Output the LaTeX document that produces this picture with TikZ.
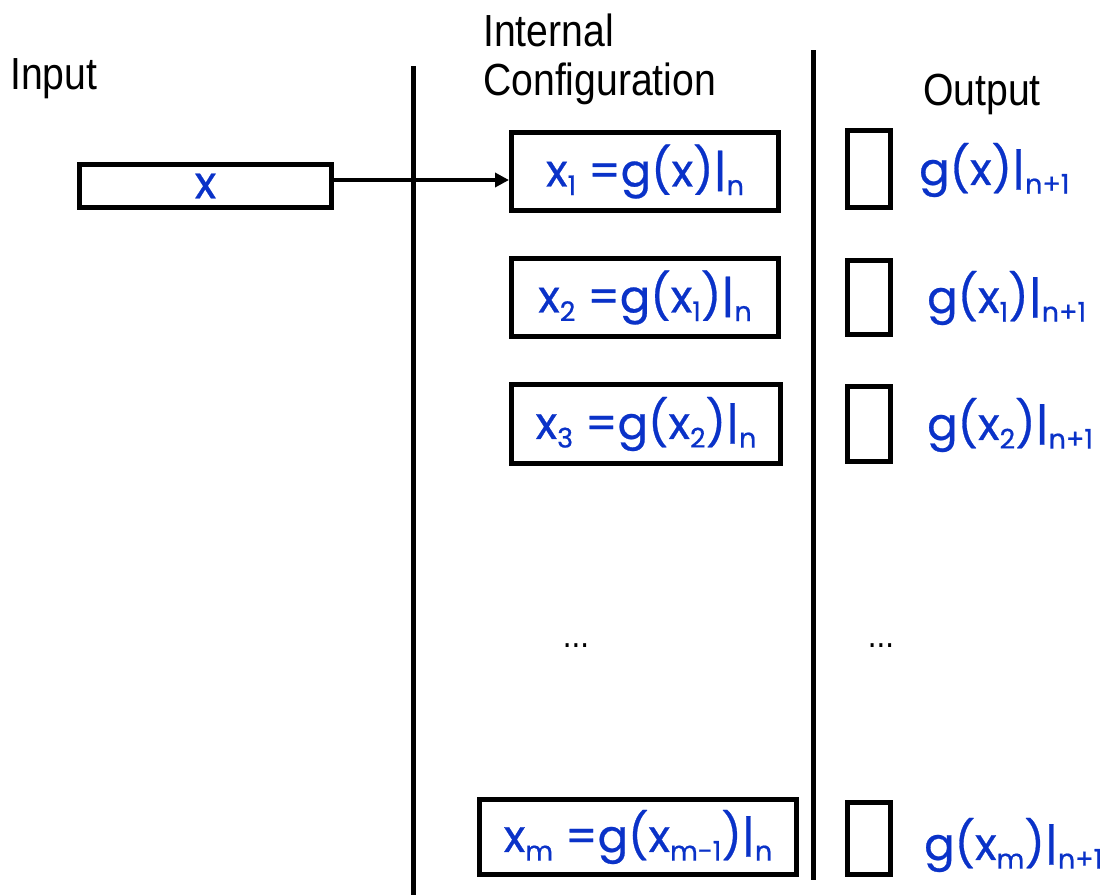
\documentclass[tikz,border=0pt]{standalone}
\usepackage{fontspec}
\usetikzlibrary{arrows.meta}
\newfontfamily\hdfont[FakeStretch=0.87]{Liberation Sans}
\newfontfamily\bfont[FakeBold=0.6]{Poppins}
\newcommand{\lowsub}[1]{\raisebox{-0.35ex}{\fontsize{27}{29}\selectfont #1}}
\definecolor{txtblue}{RGB}{10,50,200}
\begin{document}
\begin{tikzpicture}[x=1pt,y=-1pt,
  blk/.style={draw=black,line width=5pt,inner sep=0pt},
  hd/.style={font=\hdfont\fontsize{45}{48}\selectfont,inner sep=0pt},
  bl/.style={text=txtblue,font=\bfont\fontsize{45}{48}\selectfont,inner sep=0pt},
  vline/.style={line width=5pt}]
\useasboundingbox (0,0) rectangle (1105,895);
% headers
\node[hd,anchor=west] (hin) at (10,79) {Input};
\node[hd,anchor=west] (hint) at (483,30) {Internal};
\node[hd,anchor=west] (hconf) at (483,84) {Configuration};
\node[hd,anchor=west] (hout) at (923,94) {Output};
% vertical lines
\coordinate (v1t) at (413,66);
\coordinate (v1b) at (413,895);
\coordinate (v2t) at (813,50);
\coordinate (v2b) at (813,880);
\draw[vline] (v1t) -- (v1b);
\draw[vline] (v2t) -- (v2b);
% input box
\node[blk,bl,minimum width=252,minimum height=43] (inbox) at (205.5,186) {x};
% configuration boxes
\node[blk,bl,minimum width=267,minimum height=78] (box1) at (645,171.5) {x\lowsub{1} =g(x)|\lowsub{n}};
\node[blk,bl,minimum width=267,minimum height=78] (box2) at (645,297.5) {x\lowsub{2} =g(x\lowsub{1})|\lowsub{n}};
\node[blk,bl,minimum width=269,minimum height=79] (box3) at (646,424) {x\lowsub{3} =g(x\lowsub{2})|\lowsub{n}};
\node[blk,bl,minimum width=317,minimum height=75] (boxm) at (638,837) {x\lowsub{m} =g(x\lowsub{m-1})|\lowsub{n}};
% output boxes
\node[blk,minimum width=43,minimum height=77] (ob1) at (869,169) {};
\node[blk,minimum width=43,minimum height=74] (ob2) at (869,297.5) {};
\node[blk,minimum width=43,minimum height=75] (ob3) at (869,424) {};
\node[blk,minimum width=43,minimum height=72] (obm) at (869,838.5) {};
% output labels
\node[bl,anchor=west] (ol1) at (919,170) {g(x)|\lowsub{n+1}};
\node[bl,anchor=west] (ol2) at (927,298) {g(x\lowsub{1})|\lowsub{n+1}};
\node[bl,anchor=west] (ol3) at (927,425) {g(x\lowsub{2})|\lowsub{n+1}};
\node[bl,anchor=west] (olm) at (924,845) {g(x\lowsub{m})|\lowsub{n+1}};
% dots
\node[font=\hdfont\fontsize{36}{40}\selectfont,inner sep=0pt] (d1) at (576,646) {...};
\node[font=\hdfont\fontsize{36}{40}\selectfont,inner sep=0pt] (d2) at (881,646) {...};
% arrow
\coordinate (a) at ([yshift=6pt]inbox.east);
\draw[line width=3.5pt,-{Triangle[length=14pt,width=14pt]}] (a) -- (a -| box1.west);
\end{tikzpicture}
\end{document}
